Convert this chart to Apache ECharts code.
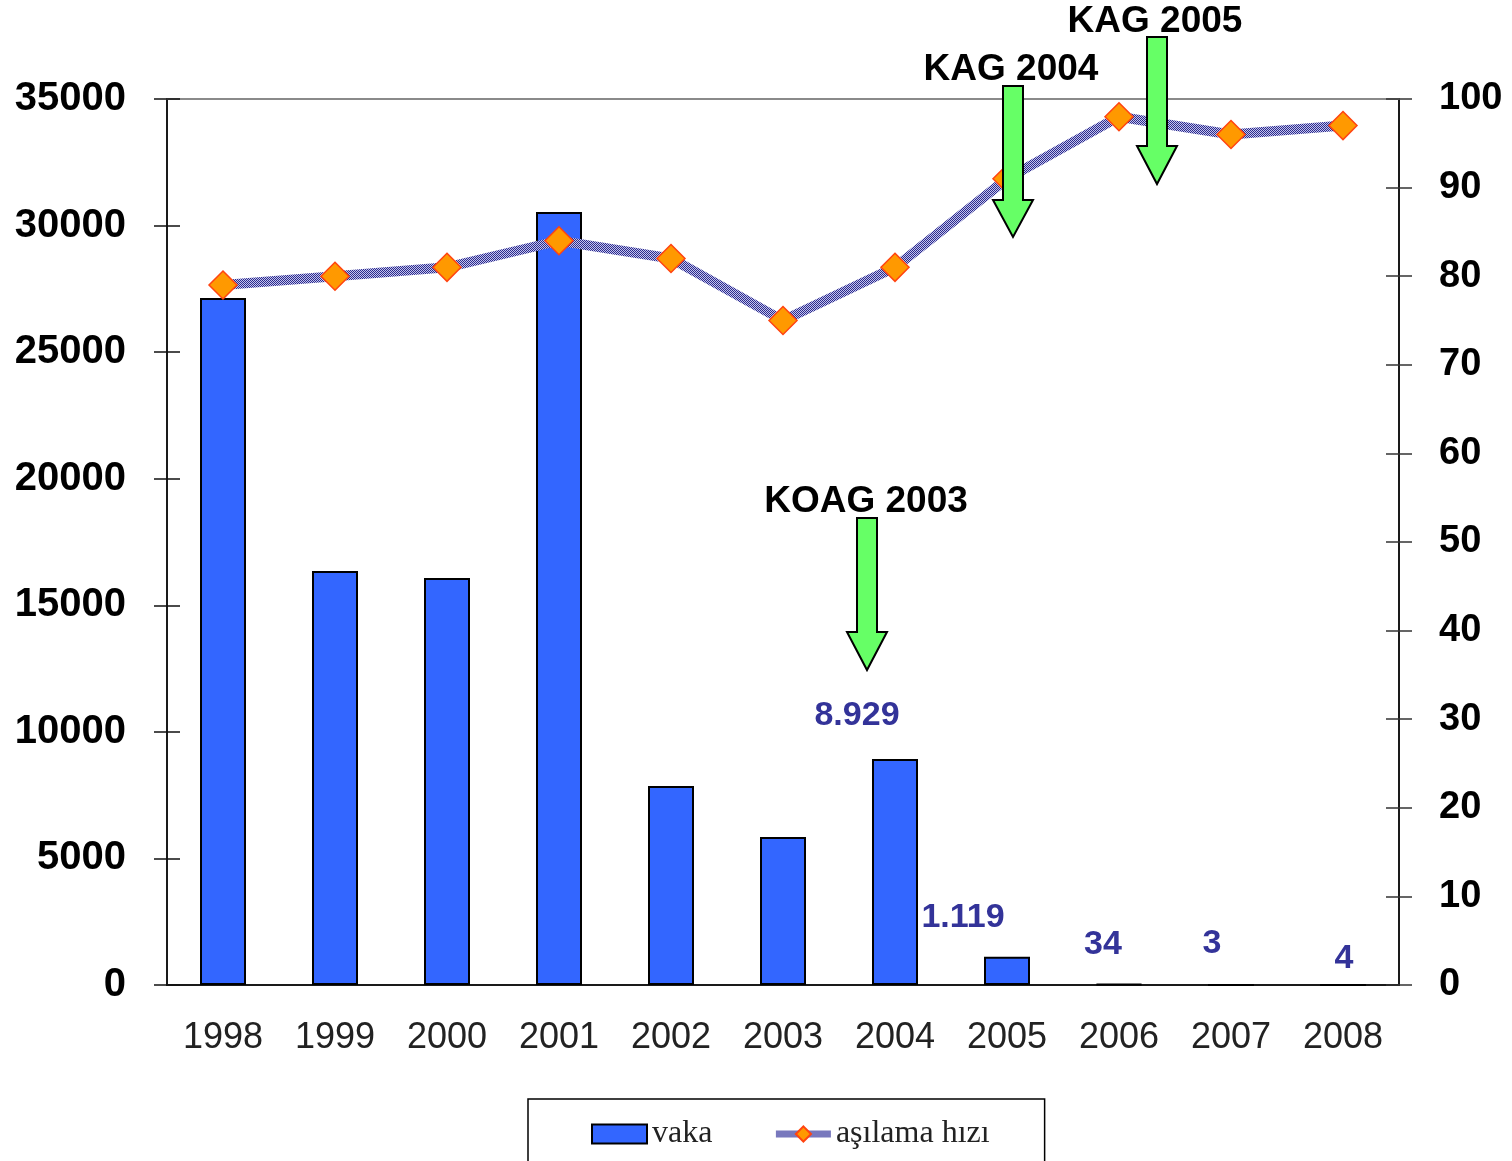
<!DOCTYPE html>
<html>
<head>
<meta charset="utf-8">
<script src="https://cdn.jsdelivr.net/npm/echarts@6/dist/echarts.min.js"></script>
<style>
  html, body { margin: 0; padding: 0; background: #fff; }
  #chart { width: 1512px; height: 1161px; }
</style>
</head>
<body>
<div id="chart"></div>
<script>
// data
const years = ['1998', '1999', '2000', '2001', '2002', '2003', '2004', '2005', '2006', '2007', '2008']
const vaka = [27140, 16350, 16080, 30540, 7860, 5850, 8929, 1119, 34, 3, 4]
const asilama = [79, 80, 81, 84, 82, 75, 81, 91, 98, 96, 97]
// value labels shown only on the last bars: [index, text, offsetX, offsetY]
const vakaLabels = [
  [6, '8.929', -38, -21],
  [7, '1.119', -44, -17],
  [8, '34', -16, -17],
  [9, '3', -19, -18],
  [10, '4', 1, -3]
]
const leftTicks = { min: 0, max: 35000, interval: 5000 }
const rightTicks = { min: 0, max: 100, interval: 10 }

// hatched pattern for the line
const pc = document.createElement('canvas')
pc.width = 2; pc.height = 2
const pctx = pc.getContext('2d')
pctx.fillStyle = '#c4c4ee'
pctx.fillRect(0, 0, 2, 2)
pctx.fillStyle = '#2c2c8c'
pctx.fillRect(0, 0, 1, 1)
pctx.fillRect(1, 1, 1, 1)
const hatch = { image: pc, repeat: 'repeat' }

const barData = vaka.map((v, i) => {
  const l = vakaLabels.find(x => x[0] === i)
  if (!l) return v
  return {
    value: v,
    label: {
      show: true,
      position: 'top',
      formatter: l[1],
      offset: [l[2], l[3]],
      color: '#333399',
      fontFamily: 'Arial, Liberation Sans',
      fontWeight: 'bold',
      fontSize: 34
    }
  }
})

function arrow(x, top, neck, tip) {
  // shaft 20 wide, head 40 wide
  return {
    type: 'polygon',
    z: 100,
    shape: {
      points: [
        [x - 10, top], [x + 10, top], [x + 10, neck], [x + 20, neck],
        [x, tip], [x - 20, neck], [x - 10, neck]
      ]
    },
    style: { fill: '#66ff66', stroke: '#000', lineWidth: 2 }
  }
}
function note(text, x, y) {
  return {
    type: 'text',
    z: 99,
    style: {
      text: text, x: x, y: y,
      textAlign: 'center', textVerticalAlign: 'middle',
      font: 'bold 37px Arial, "Liberation Sans"',
      fill: '#000'
    }
  }
}

const myChart = echarts.init(document.getElementById('chart'))
// the axes are pulled inwards by half a tick so the ticks cross the frame;
// the frame itself is the grid border
const option = {
  animation: false,
  backgroundColor: '#fff',
  grid: {
    left: 167, right: 113, top: 99, bottom: 176,
    show: true, borderColor: '#1a1a1a', borderWidth: 2
  },
  legend: {
    left: 528, top: 1099,
    padding: [19, 55, 40, 63],
    borderColor: '#000', borderWidth: 1.5,
    itemWidth: 55, itemHeight: 19, itemGap: 60,
    lineStyle: { color: hatch, width: 7 },
    textStyle: { fontFamily: '"Liberation Serif", serif', fontSize: 32, color: '#222' },
    data: [
      { name: 'vaka', icon: 'rect' },
      { name: 'aşılama hızı' }
    ]
  },
  xAxis: [
    {
      type: 'category',
      data: years,
      offset: -10,
      axisLine: { show: false, onZero: false },
      axisTick: { length: 20, lineStyle: { color: '#222', width: 1.5 } },
      axisLabel: { fontFamily: 'Arial, Liberation Sans', fontSize: 36, color: '#222', margin: 45 }
    },
    {
      type: 'category',
      data: years,
      position: 'top',
      axisLine: { show: true, onZero: false, lineStyle: { color: '#8a8a8a', width: 2 } },
      axisTick: { show: false },
      axisLabel: { show: false }
    }
  ],
  yAxis: [
    {
      type: 'value',
      position: 'left',
      offset: -13,
      min: leftTicks.min, max: leftTicks.max, interval: leftTicks.interval,
      axisLine: { show: false },
      axisTick: { show: true, length: 26, lineStyle: { color: '#111', width: 1.5 } },
      axisLabel: {
        fontFamily: 'Arial, Liberation Sans', fontWeight: 'bold', fontSize: 40, color: '#000', margin: 54,
        formatter: v => String(v)
      },
      splitLine: { show: false }
    },
    {
      type: 'value',
      position: 'right',
      offset: -13,
      min: rightTicks.min, max: rightTicks.max, interval: rightTicks.interval,
      axisLine: { show: false },
      axisTick: { show: true, length: 26, lineStyle: { color: '#333', width: 1.5 } },
      axisLabel: { fontFamily: 'Arial, Liberation Sans', fontWeight: 'bold', fontSize: 38, color: '#000', margin: 53 },
      splitLine: { show: false }
    }
  ],
  series: [
    {
      name: 'vaka',
      type: 'bar',
      yAxisIndex: 0,
      barWidth: 46,
      itemStyle: { color: '#3366ff', borderColor: '#000', borderWidth: 2 },
      data: barData
    },
    {
      name: 'aşılama hızı',
      type: 'line',
      yAxisIndex: 1,
      z: 5,
      symbol: 'diamond',
      symbolSize: 28,
      lineStyle: { color: hatch, width: 10 },
      itemStyle: { color: '#ff9900', borderColor: '#ff4411', borderWidth: 1.5 },
      data: asilama
    }
  ],
  graphic: [
    note('KOAG 2003', 866, 502),
    arrow(867, 518, 632, 670),
    note('KAG 2004', 1011, 70),
    arrow(1013, 86, 200, 237),
    note('KAG 2005', 1155, 22),
    arrow(1157, 37, 146, 184)
  ]
}
myChart.setOption(option)
</script>
</body>
</html>
